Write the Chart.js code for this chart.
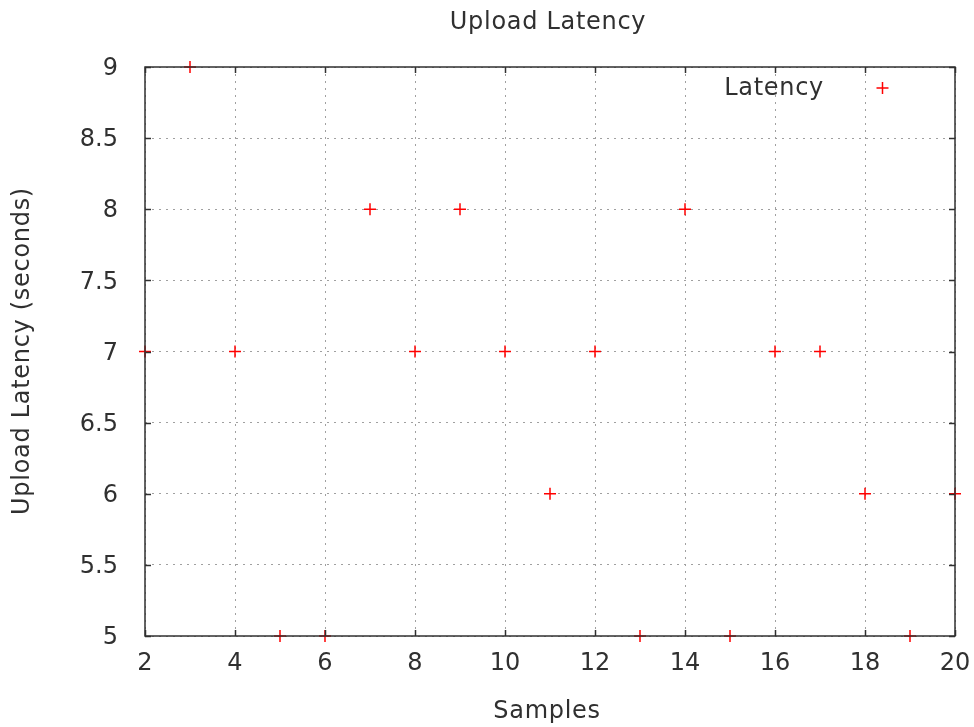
<!DOCTYPE html>
<html><head><meta charset="utf-8">
<script src="https://cdn.jsdelivr.net/npm/chart.js@4/dist/chart.umd.min.js"></script>
<style>html,body{margin:0;padding:0;background:#fff}#w{width:974px;height:727px}</style>
</head><body><div id="w"><canvas id="c"></canvas></div>
<script>
const samples = [2,3,4,5,6,7,8,9,10,11,12,13,14,15,16,17,18,19,20];
const latency = [7,9,7,5,5,8,7,8,7,6,7,5,8,5,7,7,6,5,6];
const xTicks = [2,4,6,8,10,12,14,16,18,20];
const yTicks = [5,5.5,6,6.5,7,7.5,8,8.5,9];
const titleText = 'Upload Latency';
const xTitle = 'Samples';
const yTitle = 'Upload Latency (seconds)';
const seriesName = 'Latency';

const FONT = 'DejaVu Sans';
const TXT = '#303030';
const FS = 24;

const deco = {
  id: 'deco',
  afterDatasetsDraw(chart) {
    const {ctx, chartArea: a, scales: {x, y}} = chart;
    ctx.save();
    ctx.strokeStyle = '#303030';
    ctx.lineWidth = 1.5;
    ctx.strokeRect(a.left, a.top, a.right - a.left, a.bottom - a.top);
    ctx.beginPath();
    xTicks.forEach(v => {
      const px = Math.round(x.getPixelForValue(v)) + 0.5;
      ctx.moveTo(px, a.bottom); ctx.lineTo(px, a.bottom - 6);
      ctx.moveTo(px, a.top); ctx.lineTo(px, a.top + 6);
    });
    yTicks.forEach(v => {
      const py = Math.round(y.getPixelForValue(v)) + 0.5;
      ctx.moveTo(a.left, py); ctx.lineTo(a.left + 6, py);
      ctx.moveTo(a.right, py); ctx.lineTo(a.right - 6, py);
    });
    ctx.stroke();
    ctx.fillStyle = TXT;
    ctx.font = FS + 'px "' + FONT + '"';
    ctx.textAlign = 'center'; ctx.textBaseline = 'middle';
    ctx.letterSpacing = '0.7px';
    ctx.fillText(titleText, 548, 23);
    ctx.fillText(xTitle, 547, 712);
    ctx.save();
    ctx.translate(23, 351);
    ctx.rotate(-Math.PI / 2);
    ctx.fillText(yTitle, 0, 0);
    ctx.restore();
    ctx.textAlign = 'right';
    ctx.fillText(seriesName, 824, 89);
    ctx.letterSpacing = '0px';
    ctx.strokeStyle = '#ff0000';
    ctx.lineWidth = 1.5;
    ctx.beginPath();
    ctx.moveTo(876.5, 88); ctx.lineTo(888.5, 88);
    ctx.moveTo(882.5, 82); ctx.lineTo(882.5, 94);
    ctx.stroke();
    ctx.restore();
  }
};

new Chart(document.getElementById('c'), {
  type: 'scatter',
  data: {
    datasets: [{
      label: seriesName,
      data: samples.map((s, i) => ({x: s, y: latency[i]})),
      pointStyle: 'cross',
      pointRadius: 6,
      pointHoverRadius: 6,
      borderColor: '#ff0000',
      backgroundColor: '#ff0000',
      borderWidth: 1.5,
      clip: false
    }]
  },
  options: {
    responsive: true,
    maintainAspectRatio: false,
    animation: false,
    events: [],
    layout: {padding: {left: 0, right: 19, top: 67, bottom: 0}},
    plugins: {legend: {display: false}, tooltip: {enabled: false}, title: {display: false}},
    scales: {
      x: {
        type: 'linear', min: 2, max: 20,
        afterBuildTicks: s => { s.ticks = xTicks.map(v => ({value: v})); },
        afterFit: s => { s.height = 91; s.paddingLeft = 0; s.paddingRight = 0; },
        border: {display: false, dash: [2, 5]},
        grid: {color: '#a0a0a0', lineWidth: 1, drawTicks: false},
        ticks: {padding: 13, color: TXT, font: {family: FONT, size: FS}, maxRotation: 0, autoSkip: false,
                callback: v => String(v)}
      },
      y: {
        type: 'linear', min: 5, max: 9,
        afterBuildTicks: s => { s.ticks = yTicks.map(v => ({value: v})); },
        afterFit: s => { s.width = 145; s.paddingTop = 0; s.paddingBottom = 0; },
        border: {display: false, dash: [2, 5]},
        grid: {color: '#a0a0a0', lineWidth: 1, drawTicks: false},
        ticks: {padding: 27, labelOffset: 2, color: TXT, font: {family: FONT, size: FS}, autoSkip: false,
                callback: v => String(v)}
      }
    }
  },
  plugins: [deco]
});
</script>
</body></html>
